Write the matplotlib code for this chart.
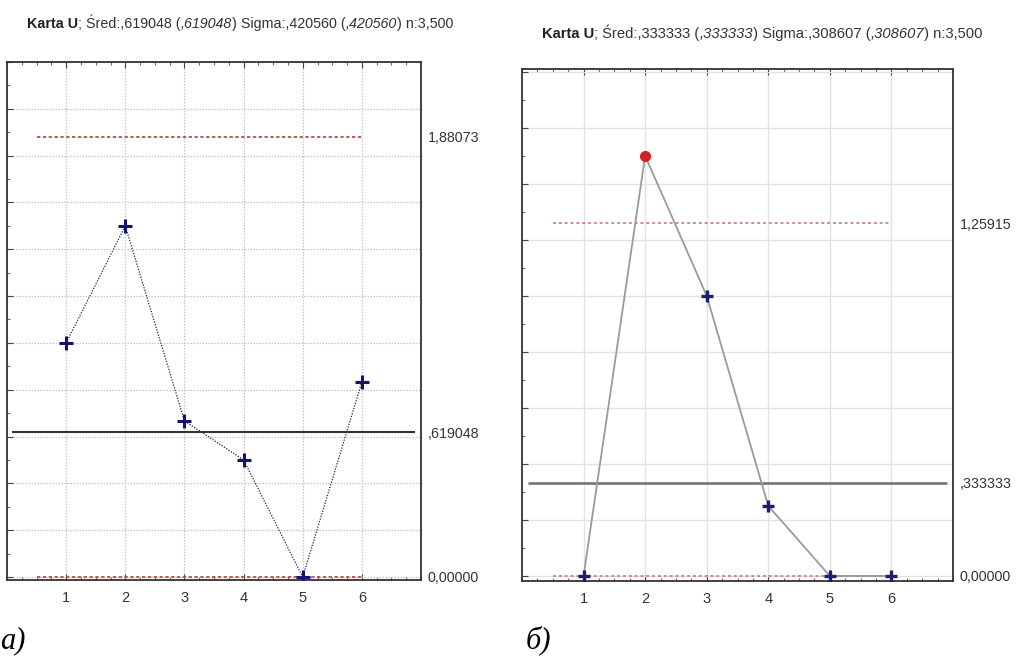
import matplotlib
matplotlib.use("Agg")
import matplotlib.pyplot as plt
from matplotlib.ticker import MultipleLocator

# ---------------- data ----------------
samples = [1, 2, 3, 4, 5, 6]
u_a = [1.0, 1.5, 0.667, 0.5, 0.0, 0.833]
u_b = [0.0, 1.5, 1.0, 0.25, 0.0, 0.0]
ucl_a, cl_a, lcl_a = 1.88073, 0.619048, 0.0
ucl_b, cl_b, lcl_b = 1.25915, 0.333333, 0.0
limit_labels_a = ["1,88073", ",619048", "0,00000"]
limit_labels_b = ["1,25915", ",333333", "0,00000"]
title_a = [("Karta U", "bold", "normal"), ("; Śred:,619048 (", "normal", "normal"),
           (",619048", "normal", "italic"), (") Sigma:,420560 (", "normal", "normal"),
           (",420560", "normal", "italic"), (") n:3,500", "normal", "normal")]
title_b = [("Karta U", "bold", "normal"), ("; Śred:,333333 (", "normal", "normal"),
           (",333333", "normal", "italic"), (") Sigma:,308607 (", "normal", "normal"),
           (",308607", "normal", "italic"), (") n:3,500", "normal", "normal")]
panel_a = "а)"
panel_b = "б)"

plt.rcParams["font.family"] = ["Liberation Sans", "DejaVu Sans"]

fig = plt.figure(figsize=(10.17, 6.59), dpi=100)


def build(rect, u, ucl, cl, lcl, lim_labels, ylim, style):
    ax = fig.add_axes(rect)
    ax.set_xlim(0, 7)
    ax.set_ylim(*ylim)
    ax.set_xticks(samples)
    ax.set_xticklabels([str(s) for s in samples], fontsize=10.5, color="#333333")
    ax.xaxis.set_minor_locator(MultipleLocator(0.25))
    ax.yaxis.set_major_locator(MultipleLocator(0.2))
    ax.yaxis.set_minor_locator(MultipleLocator(0.1))
    ax.tick_params(which="both", direction="in", top=True, right=True, left=True, bottom=True,
                   labelleft=False, color="#444444")
    ax.tick_params(which="major", length=4)
    ax.tick_params(which="minor", length=2.5)
    ax.tick_params(axis="x", which="major", pad=8)
    for sp in ax.spines.values():
        sp.set_color("#333333")
        sp.set_linewidth(1.3)
    if style == "a":
        ax.grid(True, which="major", color="#c4c4c4", linestyle=(0, (1.2, 1.2)), linewidth=0.9)
    else:
        ax.grid(True, which="major", color="#e2e2e2", linestyle="-", linewidth=1.0)
    ax.set_axisbelow(True)

    if style == "a":
        ax.hlines(ucl, 0.5, 6, color="#b04040", linestyle=(0, (2, 1.5)), linewidth=1.2)
        ax.hlines(lcl, 0.5, 6, color="#b04040", linestyle=(0, (2, 1.5)), linewidth=1.2)
        ax.hlines(cl, 0.08, 6.9, color="#333333", linewidth=1.5)
        ax.plot(samples, u, color="#222244", linestyle=(0, (1, 1.2)), linewidth=0.9, zorder=3)
        ax.plot(samples, u, linestyle="none", marker="+", markersize=10, mew=2.2,
                color="#141470", zorder=4)
    else:
        ax.hlines(ucl, 0.5, 6, color="#c07070", linestyle=(0, (1.5, 1.5)), linewidth=1.4, alpha=0.8)
        ax.hlines(lcl, 0.5, 6, color="#c07070", linestyle=(0, (1.5, 1.5)), linewidth=1.4, alpha=0.8)
        ax.hlines(cl, 0.1, 6.9, color="#7a7a7a", linewidth=2.0)
        ax.plot(samples, u, color="#9a9a9a", linewidth=1.3, zorder=3)
        xin = [s for s, v in zip(samples, u) if v <= ucl]
        yin = [v for v in u if v <= ucl]
        xout = [s for s, v in zip(samples, u) if v > ucl]
        yout = [v for v in u if v > ucl]
        ax.plot(xin, yin, linestyle="none", marker="+", markersize=9, mew=2.4,
                color="#1e1e6e", zorder=4)
        ax.plot(xout, yout, linestyle="none", marker="o", markersize=7,
                color="#d42020", zorder=4)

    tw = ax.twinx()
    tw.set_ylim(*ylim)
    tw.set_yticks([ucl, cl, lcl])
    tw.set_yticklabels(lim_labels, fontsize=10.3, color="#333333")
    tw.tick_params(axis="y", length=0, pad=5)
    for sp in tw.spines.values():
        sp.set_visible(False)
    return ax


def title_seq(x, y, parts, size):
    prev = fig.text(x, y, parts[0][0], fontsize=size, fontweight=parts[0][1],
                    fontstyle=parts[0][2], color="#222222", va="bottom", ha="left")
    for txt, w, s in parts[1:]:
        prev = fig.add_artist(matplotlib.text.Annotation(
            txt, xy=(1, 0), xycoords=prev, fontsize=size, fontweight=w,
            fontstyle=s, color="#333333", va="bottom", ha="left", annotation_clip=False))


ax_a = build([7 / 1017, 1 - 580 / 659, 414 / 1017, 518 / 659], u_a, ucl_a, cl_a, lcl_a,
             limit_labels_a, (-0.013, 2.2), "a")
title_seq(27 / 1017, 1 - 31 / 659, title_a, 10.3)

ax_b = build([522 / 1017, 1 - 581 / 659, 431 / 1017, 512 / 659], u_b, ucl_b, cl_b, lcl_b,
             limit_labels_b, (-0.018, 1.81), "b")
title_seq(542 / 1017, 1 - 41 / 659, title_b, 10.6)

fig.text(0.0, 1 - 655 / 659, panel_a, fontsize=22, fontstyle="italic",
         family=["Liberation Serif", "DejaVu Serif"], va="bottom", ha="left")
fig.text(526 / 1017, 1 - 655 / 659, panel_b, fontsize=22, fontstyle="italic",
         family=["Liberation Serif", "DejaVu Serif"], va="bottom", ha="left")

fig.savefig("out.png", dpi=100)
